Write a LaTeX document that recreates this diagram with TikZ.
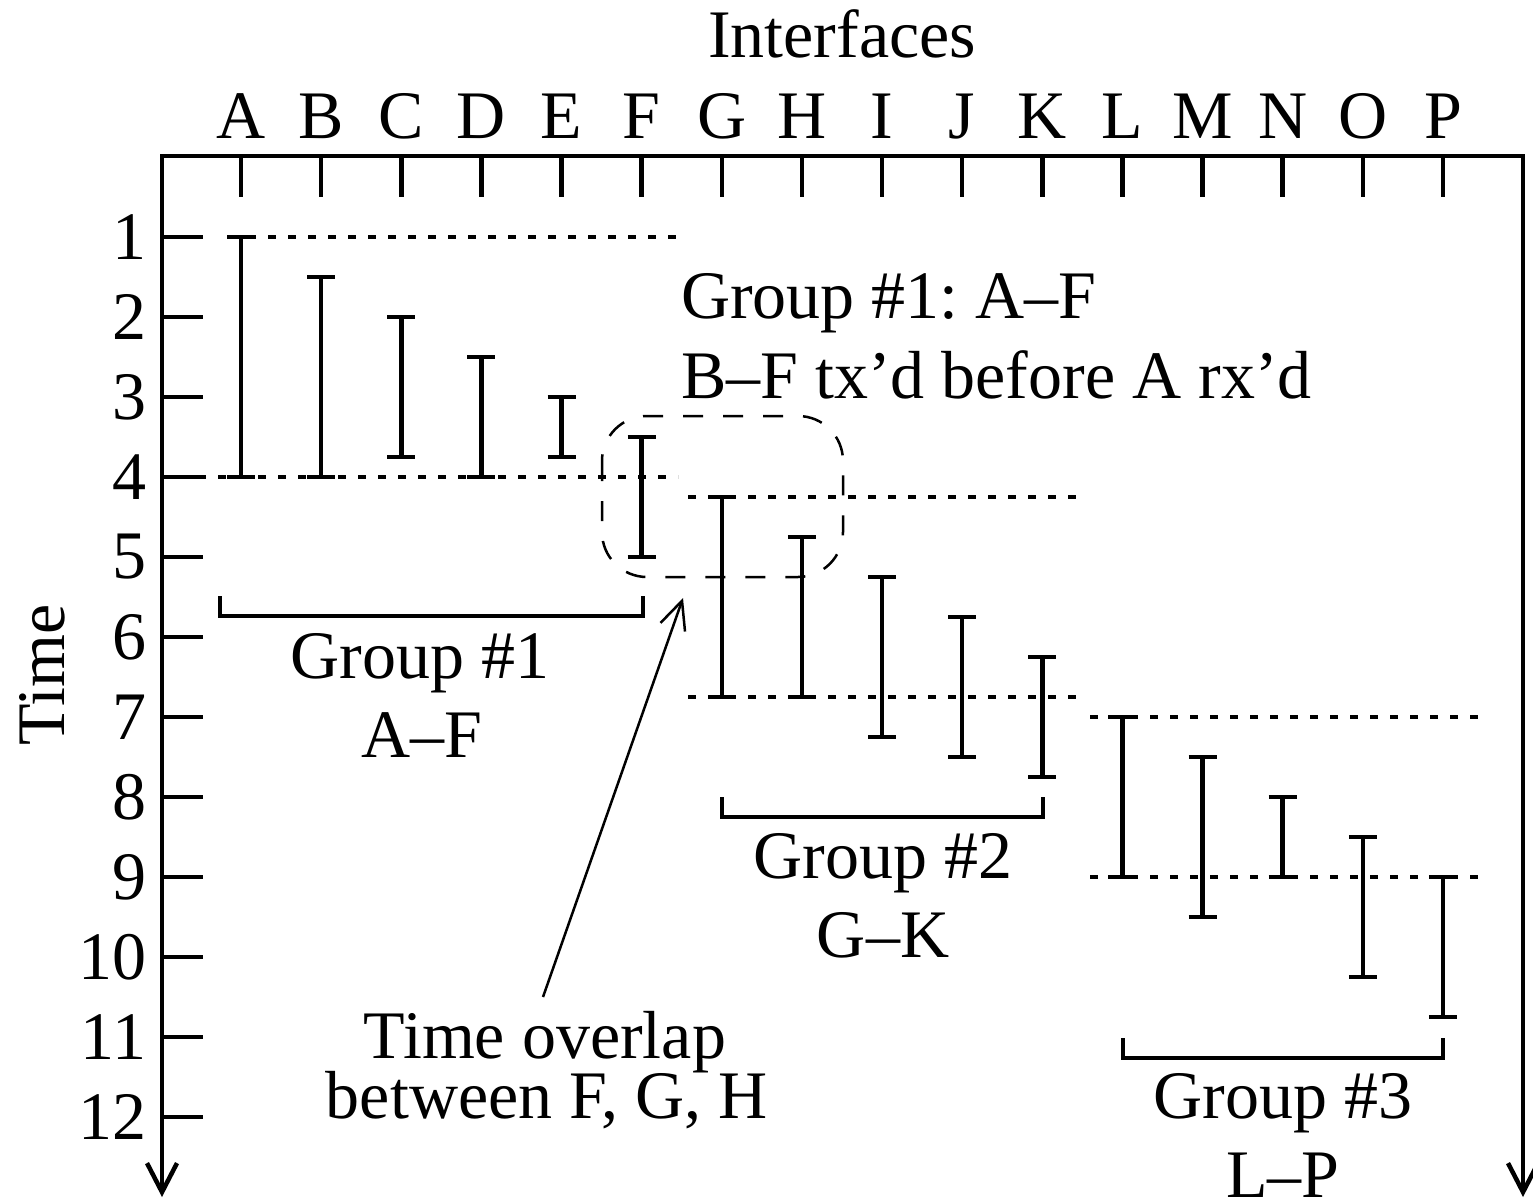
\documentclass[tikz,border=0pt]{standalone}
\usepackage{fontspec}
\setmainfont{Liberation Serif}
\usetikzlibrary{arrows.meta}
\frenchspacing
\begin{document}
\begin{tikzpicture}[x=1pt,y=-1pt,
  every node/.style={inner sep=0pt,outer sep=0pt,font=\fontsize{68}{80}\selectfont\frenchspacing},
  frame/.style={line width=4.5pt,line join=miter,{Straight Barb[length=29pt,width=30pt]}-{Straight Barb[length=29pt,width=30pt]}},
  tickmark/.style={line width=4.5pt},
  ebarstyle/.style={line width=4.5pt},
  dotline/.style={line width=4.5pt,dash pattern=on 8pt off 12pt},
  bracketstyle/.style={line width=4.5pt,line join=miter},
  roundbox/.style={line width=2.5pt,dash pattern=on 20pt off 20pt,rounded corners=45pt},
  pointer/.style={line width=2.5pt,-{Straight Barb[length=28pt,width=26pt]}}
]
\useasboundingbox (0,0) rectangle (1533,1202);
% frame with two down arrows
\draw[frame] (162,1197) -- (162,156) -- (1523,156) -- (1523,1197);
% title
\node[anchor=base] (title) at (842,57) {Interfaces};
% interface letters and top ticks
\foreach \l [count=\i from 0] in {A,B,C,D,E,F,G,H,I,J,K,L,M,N,O,P}{
  \pgfmathsetmacro{\xx}{241+80.13*\i}
  \node[anchor=base] (if\l) at (\xx,138) {\l};
  \draw[tickmark] (\xx,156) -- (\xx,197);
}
% time ticks and numbers
\foreach \t in {1,...,12}{
  \pgfmathsetmacro{\yy}{157+80*\t}
  \draw[tickmark] (162,\yy) -- (203,\yy);
  \node[anchor=east] (t\t) at (146,\yy) {\t};
}
\node[rotate=90] (timelabel) at (42,675) {Time};
% dotted reference lines
\draw[dotline] (228,237) -- (678,237);
\draw[dotline] (198,477) -- (678,477);
\draw[dotline] (688,497) -- (1080,497);
\draw[dotline] (688,697) -- (1080,697);
\draw[dotline] (1090,717) -- (1480,717);
\draw[dotline] (1090,877) -- (1480,877);
% error bars: index, start time, end time
\foreach \i/\a/\b in {0/1/4, 1/1.5/4, 2/2/3.75, 3/2.5/4, 4/3/3.75, 5/3.5/5,
  6/4.25/6.75, 7/4.75/6.75, 8/5.25/7.25, 9/5.75/7.5, 10/6.25/7.75,
  11/7/9, 12/7.5/9.5, 13/8/9, 14/8.5/10.25, 15/9/10.75}{
  \pgfmathsetmacro{\xx}{241+80.13*\i}
  \pgfmathsetmacro{\ya}{157+80*\a}
  \pgfmathsetmacro{\yb}{157+80*\b}
  \draw[ebarstyle] ({\xx-14},\ya) -- ({\xx+14},\ya)
                   (\xx,\ya) -- (\xx,\yb)
                   ({\xx-14},\yb) -- ({\xx+14},\yb);
}
% group brackets
\draw[bracketstyle] (220,596) -- (220,616) -- (643,616) -- (643,596);
\draw[bracketstyle] (722,797) -- (722,817) -- (1043,817) -- (1043,797);
\draw[bracketstyle] (1123,1038) -- (1123,1058) -- (1443,1058) -- (1443,1038);
% group labels
\node[anchor=base] (g1a) at (420,678) {Group \#1};
\node[anchor=base] (g1b) at (422,757) {A–F};
\node[anchor=base] (g2a) at (883,878) {Group \#2};
\node[anchor=base] (g2b) at (883,957) {G–K};
\node[anchor=base] (g3a) at (1283,1118) {Group \#3};
\node[anchor=base] (g3b) at (1283,1197) {L–P};
% annotation top
\node[anchor=base west] (note1) at (681,318) {Group \#1: A–F};
\node[anchor=base west] (note2) at (681,398) {B–F tx’d before A rx’d};
% overlap box
\draw[roundbox] (602,416) rectangle (843,577);
% overlap label and pointer
\node[anchor=base] (ov1) at (545,1058) {Time overlap};
\node[anchor=base] (ov2) at (547,1118) {between F, G, H};
\coordinate (ovstart) at (543,997);
\coordinate (ovtip) at (683,598);
\draw[pointer] (ovstart) -- (ovtip);
\end{tikzpicture}
\end{document}
